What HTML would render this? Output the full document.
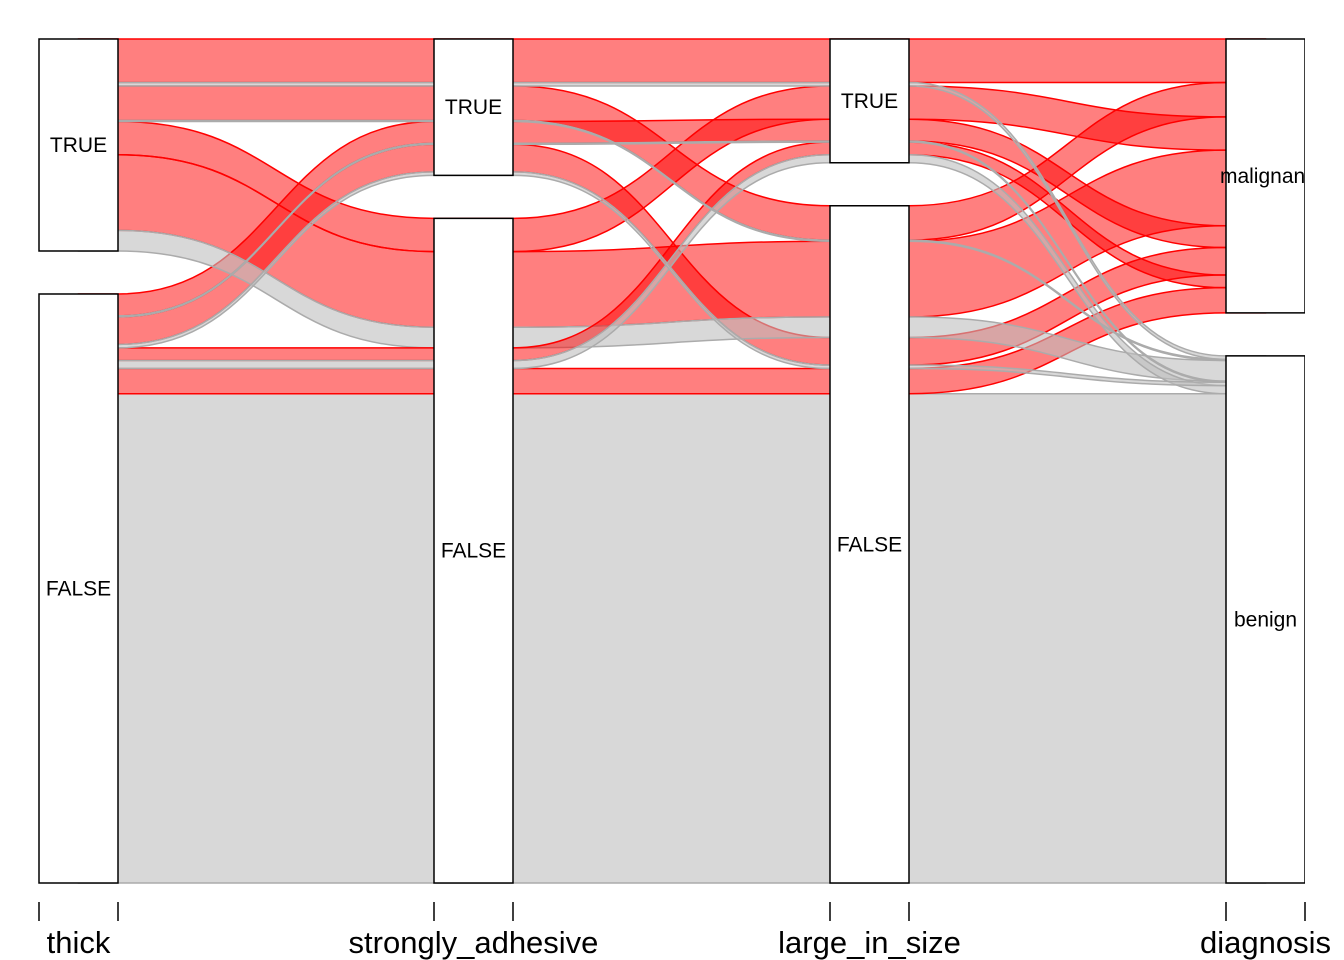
<!DOCTYPE html>
<html><head><meta charset="utf-8"><style>
html,body{margin:0;padding:0;background:#fff;}
svg{display:block;font-family:"Liberation Sans",Arial,sans-serif;}
</style></head><body>
<svg id="chart" width="1344" height="960">
<defs><clipPath id="plotclip"><rect x="0" y="0" width="1305" height="900"/></clipPath></defs>
<g id="flows"></g>
<g id="boxes" clip-path="url(#plotclip)"></g>
<g id="axis"></g>
</svg>
<script>
const axisNames = ["thick","strongly_adhesive","large_in_size","diagnosis"];
const axisLevels = [["FALSE","TRUE"],["FALSE","TRUE"],["FALSE","TRUE"],["benign","malignant"]];
const levelLabels = [["FALSE","TRUE"],["FALSE","TRUE"],["FALSE","TRUE"],["benign","malignant"]];
// combos: thick, strongly_adhesive, large_in_size, diagnosis (level indices)
const thickVals = [1,1,1,1,1,1,1,1,0,0,0,0,0,0,0,0];
const adhesiveVals = [1,1,1,1,0,0,0,0,1,1,1,1,0,0,0,0];
const largeVals = [1,1,0,0,1,1,0,0,1,1,0,0,1,1,0,0];
const diagVals = [1,0,1,0,1,0,1,0,1,0,1,0,1,0,1,0];
const counts = [38,3,30,1,29,0,66,18,19,1,24,3,11,7,22,427];

const NS="http://www.w3.org/2000/svg";
const cols=[thickVals,adhesiveVals,largeVals,diagVals];
const np=4, n=counts.length;
const axisX=[78.5,473.5,869.5,1265.5], halfW=39.5;
const yTop=39, yBot=883, gapPx=43;
const total=counts.reduce((a,b)=>a+b,0);
const scale=(yBot-yTop-gapPx)/total;

const pos=[];
const catRange=[];
for(let a=0;a<np;a++){
  const others=[a].concat([0,1,2,3].filter(k=>k!==a));
  const idx=[...Array(n).keys()].sort((i,j)=>{
    for(const k of others){ if(cols[k][i]!==cols[k][j]) return cols[k][i]-cols[k][j]; }
    return 0;
  });
  let y=yBot, prevCat=null; const p=[]; const cr={};
  idx.forEach(i=>{
    const c=cols[a][i];
    if(prevCat!==null && c!==prevCat) y-=gapPx;
    if(!cr[c]) cr[c]=[y,y];
    const h=counts[i]*scale;
    p[i]=[y-h,y];
    cr[c][0]=y-h;
    y-=h; prevCat=c;
  });
  pos.push(p); catRange.push(cr);
}

const fg=document.getElementById('flows');
const order=[...Array(n).keys()].filter(i=>counts[i]>0).sort((i,j)=>counts[j]-counts[i]);
order.forEach(i=>{
  const red=diagVals[i]===1;
  let d="";
  const tops=[],bots=[];
  for(let a=0;a<np;a++){tops.push(pos[a][i][0]);bots.push(pos[a][i][1]);}
  d+=`M${axisX[0]},${tops[0]}`;
  for(let a=0;a<np-1;a++){
    const x1=axisX[a]+halfW,x2=axisX[a+1]-halfW,xm=(x1+x2)/2;
    d+=` L${x1},${tops[a]} C${xm},${tops[a]} ${xm},${tops[a+1]} ${x2},${tops[a+1]} L${axisX[a+1]},${tops[a+1]}`;
  }
  d+=` L${axisX[np-1]},${bots[np-1]}`;
  for(let a=np-1;a>0;a--){
    const x1=axisX[a-1]+halfW,x2=axisX[a]-halfW,xm=(x1+x2)/2;
    d+=` L${x2},${bots[a]} C${xm},${bots[a]} ${xm},${bots[a-1]} ${x1},${bots[a-1]} L${axisX[a-1]},${bots[a-1]}`;
  }
  d+=" Z";
  const p=document.createElementNS(NS,'path');
  p.setAttribute('d',d);
  p.setAttribute('fill',red?'rgba(255,0,0,0.5)':'rgba(190,190,190,0.6)');
  p.setAttribute('stroke',red?'#ff0000':'#ababab');
  p.setAttribute('stroke-width','1.5');
  
  
  fg.appendChild(p);
});

const bg=document.getElementById('boxes');
for(let a=0;a<np;a++){
  for(const c of [0,1]){
    const r=catRange[a][c]; if(!r) continue;
    const rect=document.createElementNS(NS,'rect');
    rect.setAttribute('x',axisX[a]-halfW);rect.setAttribute('y',r[0]);
    rect.setAttribute('width',halfW*2);rect.setAttribute('height',r[1]-r[0]);
    rect.setAttribute('fill','#fff');rect.setAttribute('stroke','#000');rect.setAttribute('stroke-width','1.5');
    
    
    bg.appendChild(rect);
    const t=document.createElementNS(NS,'text');
    t.setAttribute('x',axisX[a]);t.setAttribute('y',(r[0]+r[1])/2+7);
    t.setAttribute('text-anchor','middle');t.setAttribute('font-size','21');
    t.textContent=levelLabels[a][c];
    
    
    bg.appendChild(t);
  }
}
const ag=document.getElementById('axis');
for(let a=0;a<np;a++){
  for(const dx of [-halfW,halfW]){
    const l=document.createElementNS(NS,'line');
    l.setAttribute('x1',axisX[a]+dx);l.setAttribute('x2',axisX[a]+dx);
    l.setAttribute('y1',902);l.setAttribute('y2',921);
    l.setAttribute('stroke','#000');l.setAttribute('stroke-width','1.5');
    
    
    ag.appendChild(l);
  }
  const t=document.createElementNS(NS,'text');
  t.setAttribute('x',axisX[a]);t.setAttribute('y',953);
  t.setAttribute('text-anchor','middle');t.setAttribute('font-size','31');
  t.textContent=axisNames[a];
  
  
  ag.appendChild(t);
}
</script>
</body></html>
